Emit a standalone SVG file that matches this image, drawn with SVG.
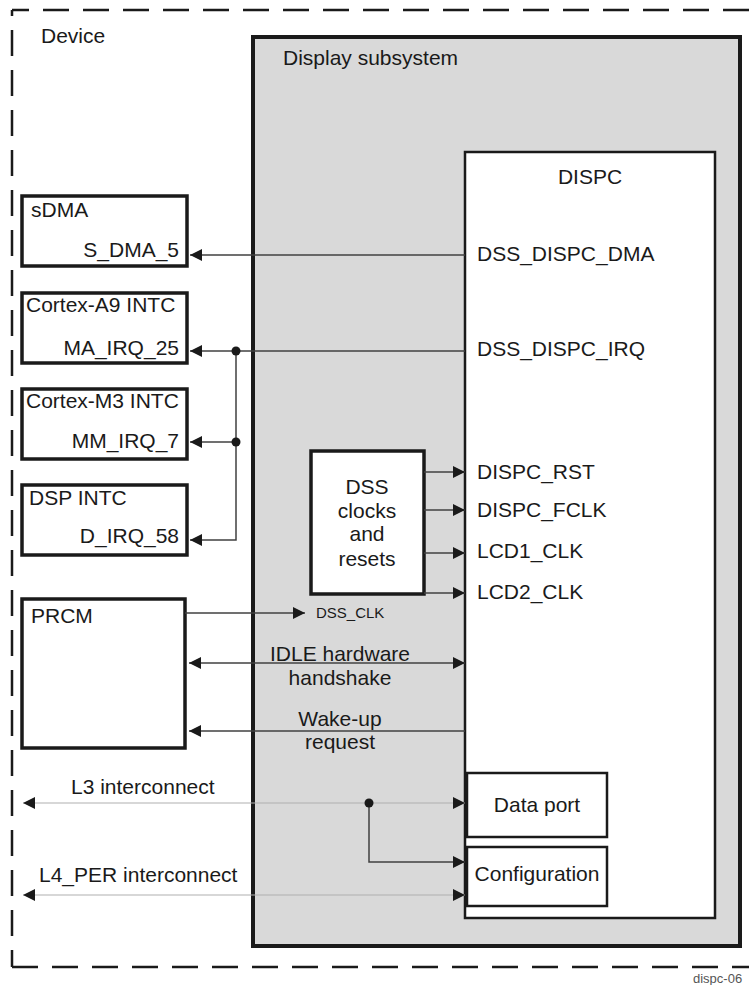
<svg xmlns="http://www.w3.org/2000/svg" width="749" height="985" viewBox="0 0 749 985">
<defs>
<style>
text{font-family:"Liberation Sans",Arial,sans-serif;font-size:21px;fill:#1a1a1a}
.box{fill:#fff;stroke:#1a1a1a;stroke-width:3.5}
.thin{fill:#fff;stroke:#1a1a1a;stroke-width:2.5}
.dash{fill:none;stroke:#1a1a1a;stroke-width:2.5;stroke-dasharray:26 14}
.sig{fill:none;stroke:#404040;stroke-width:1.5}
.bus{fill:none;stroke:#b0b0b0;stroke-width:1.2}
.mid{text-anchor:middle}
.end{text-anchor:end}
</style>
<marker id="ah" markerUnits="userSpaceOnUse" markerWidth="12" markerHeight="12" viewBox="0 0 11 11" refX="11" refY="5.5" orient="auto-start-reverse">
<path d="M0,0 L11,5.5 L0,11 z" fill="#1a1a1a"/>
</marker>
</defs>

<g id="device">
<line class="dash" x1="12" y1="10" x2="760" y2="10" stroke-dashoffset="9"/>
<line class="dash" x1="12" y1="10" x2="12" y2="967" stroke-dashoffset="20"/>
<line class="dash" x1="12" y1="967" x2="760" y2="967"/>
<text x="41" y="43">Device</text>
</g>

<g id="display-subsystem">
<rect x="253" y="37" width="487" height="909" fill="#d9d9d9" stroke="#1a1a1a" stroke-width="4"/>
<text x="283" y="65">Display subsystem</text>
</g>

<g id="dispc">
<rect class="thin" x="465" y="152" width="250" height="766"/>
<text class="mid" x="590" y="184">DISPC</text>
<text x="477" y="261">DSS_DISPC_DMA</text>
<text x="477" y="356">DSS_DISPC_IRQ</text>
<text x="477" y="479">DISPC_RST</text>
<text x="477" y="517">DISPC_FCLK</text>
<text x="477" y="558">LCD1_CLK</text>
<text x="477" y="599">LCD2_CLK</text>
</g>

<g id="data-port">
<rect class="thin" x="467" y="773" width="140" height="64"/>
<text class="mid" x="537" y="812">Data port</text>
</g>

<g id="configuration">
<rect class="thin" x="467" y="847" width="140" height="59"/>
<text class="mid" x="537" y="881">Configuration</text>
</g>

<g id="dss-clocks">
<rect class="box" x="311" y="451" width="113" height="143" stroke-width="4"/>
<text class="mid" x="367" y="494">DSS</text>
<text class="mid" x="367" y="518">clocks</text>
<text class="mid" x="367" y="541">and</text>
<text class="mid" x="367" y="566">resets</text>
</g>

<g id="sdma">
<rect class="box" x="22" y="196" width="165" height="70"/>
<text x="31" y="217">sDMA</text>
<text class="end" x="179" y="257">S_DMA_5</text>
</g>

<g id="cortex-a9">
<rect class="box" x="22" y="293" width="165" height="70"/>
<text x="26" y="312">Cortex-A9 INTC</text>
<text class="end" x="179" y="355">MA_IRQ_25</text>
</g>

<g id="cortex-m3">
<rect class="box" x="22" y="389" width="165" height="70"/>
<text x="26" y="408">Cortex-M3 INTC</text>
<text class="end" x="179" y="448">MM_IRQ_7</text>
</g>

<g id="dsp-intc">
<rect class="box" x="22" y="485" width="165" height="70"/>
<text x="29" y="505">DSP INTC</text>
<text class="end" x="179" y="543">D_IRQ_58</text>
</g>

<g id="prcm">
<rect class="box" x="22" y="599" width="163" height="149"/>
<text x="31" y="623">PRCM</text>
</g>

<g id="connectors">
<line class="sig" x1="465" y1="255" x2="190" y2="255" marker-end="url(#ah)"/>
<line class="sig" x1="465" y1="351" x2="190" y2="351" marker-end="url(#ah)"/>
<polyline class="sig" points="236,351 236,540 190,540" marker-end="url(#ah)"/>
<line class="sig" x1="236" y1="442" x2="190" y2="442" marker-end="url(#ah)"/>
<circle cx="236" cy="351" r="4.5" fill="#1a1a1a"/>
<circle cx="236" cy="442" r="4.5" fill="#1a1a1a"/>

<line class="sig" x1="424" y1="472" x2="465" y2="472" marker-end="url(#ah)"/>
<line class="sig" x1="424" y1="510" x2="465" y2="510" marker-end="url(#ah)"/>
<line class="sig" x1="424" y1="553" x2="465" y2="553" marker-end="url(#ah)"/>
<line class="sig" x1="424" y1="593" x2="465" y2="593" marker-end="url(#ah)"/>

<line class="sig" x1="185" y1="613" x2="305" y2="613" marker-end="url(#ah)"/>
<text x="316" y="618" style="font-size:15px">DSS_CLK</text>

<line class="sig" x1="189" y1="663" x2="465" y2="663" marker-start="url(#ah)" marker-end="url(#ah)"/>
<text class="mid" x="340" y="661">IDLE hardware</text>
<text class="mid" x="340" y="685">handshake</text>

<line class="sig" x1="465" y1="731" x2="189" y2="731" marker-end="url(#ah)"/>
<text class="mid" x="340" y="726">Wake-up</text>
<text class="mid" x="340" y="749">request</text>

<line class="bus" x1="23" y1="803" x2="465" y2="803" marker-start="url(#ah)" marker-end="url(#ah)"/>
<text x="71" y="794">L3 interconnect</text>
<polyline class="sig" points="369,803 369,862 465,862" marker-end="url(#ah)"/>
<circle cx="369" cy="803" r="4.5" fill="#1a1a1a"/>

<line class="bus" x1="23" y1="895" x2="465" y2="895" marker-start="url(#ah)" marker-end="url(#ah)"/>
<text x="39" y="882">L4_PER interconnect</text>
</g>

<text x="693" y="983" style="font-size:13px;fill:#555">dispc-06</text>
</svg>
